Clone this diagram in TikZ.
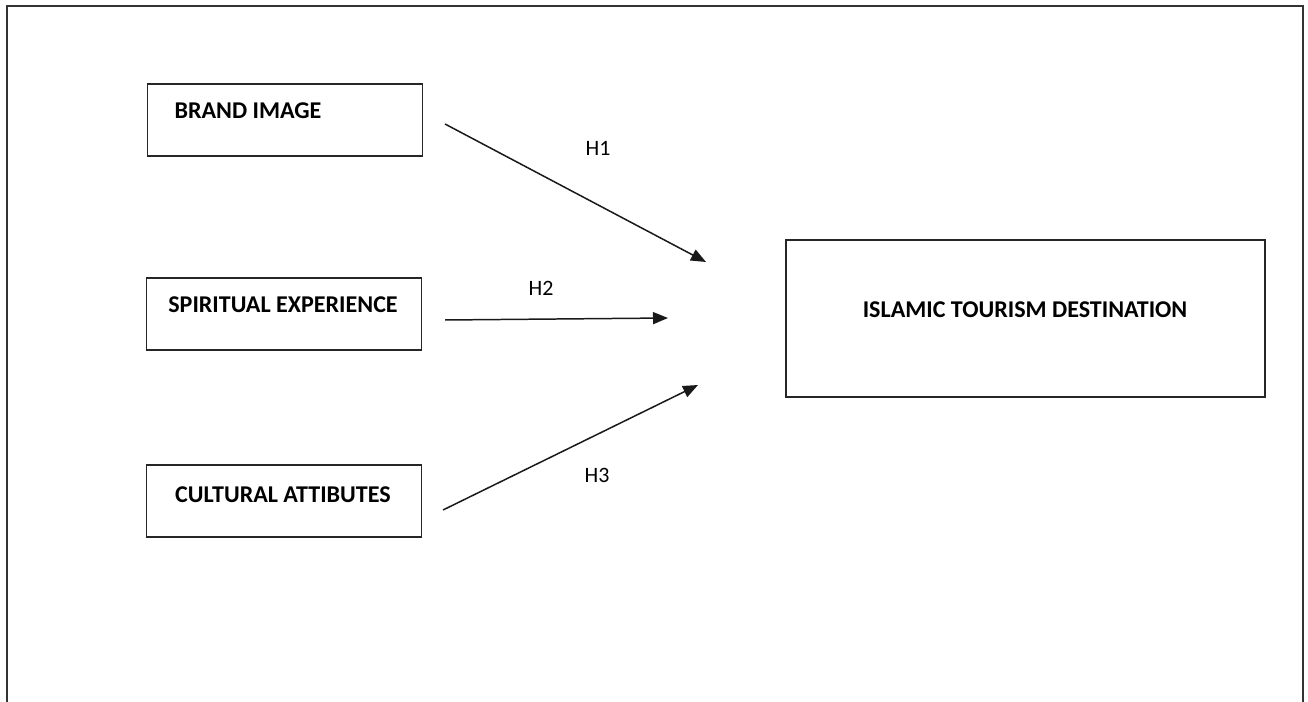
\documentclass[tikz,border=0pt]{standalone}
\usepackage{fontspec}
\setmainfont{Carlito}
\usetikzlibrary{arrows.meta,positioning}

\begin{document}
\begin{tikzpicture}[
    x=0.02cm,y=-0.02cm,
    >={Triangle[length=0.3cm,width=0.24cm]},
    box/.style={
        draw=black!85, line width=0.9pt,
        rectangle,
        inner sep=0pt,
        minimum width=5.5cm,
        minimum height=1.44cm
    },
    caption/.style={
        inner sep=0pt,
        font=\bfseries\fontsize{13.7}{15}\selectfont,
        text=black
    },
    hyp/.style={
        inner sep=0pt,
        font=\fontsize{12.5}{14}\selectfont,
        text=black
    },
    link/.style={
        ->, line width=0.85pt, draw=black!90
    }
]
\useasboundingbox (0,0) rectangle (1308,702);

% ====== frame ======
\draw[line width=1.2pt, draw=black!80] (7,702) -- (7,6) -- (1303,6) -- (1303,702);

% ====== left boxes ======
\node[box] (brand) at (285,120) {};
\node[box] (spirit) at (284,314) {};
\node[box] (culture) at (284,501) {};

\node[caption] (brandtxt) at (248,111) {BRAND IMAGE};
\node[caption] (spirittxt) at (283,305) {SPIRITUAL EXPERIENCE};
\node[caption] (culturetxt) at (283,495) {CULTURAL ATTIBUTES};

% ====== right box ======
\node[box, minimum width=9.58cm, minimum height=3.14cm] (islamic) at (1025.5,318.5) {};
\node[caption] (islamictxt) at (1025,310) {ISLAMIC TOURISM DESTINATION};

% ====== arrow ends ======
\coordinate (brandout) at (445,124);
\coordinate (spiritout) at (445,320);
\coordinate (cultureout) at (443,510);
\coordinate (tipone) at (706,262);
\coordinate (tiptwo) at (668,318);
\coordinate (tipthree) at (698,385);

\draw[link] (brandout) -- (tipone);
\draw[link] (spiritout) -- (tiptwo);
\draw[link] (cultureout) -- (tipthree);

% ====== hypotheses ======
\node[hyp] (hone) at (598,148) {H1};
\node[hyp] (htwo) at (541,288) {H2};
\node[hyp] (hthree) at (597,475) {H3};

\end{tikzpicture}
\end{document}
